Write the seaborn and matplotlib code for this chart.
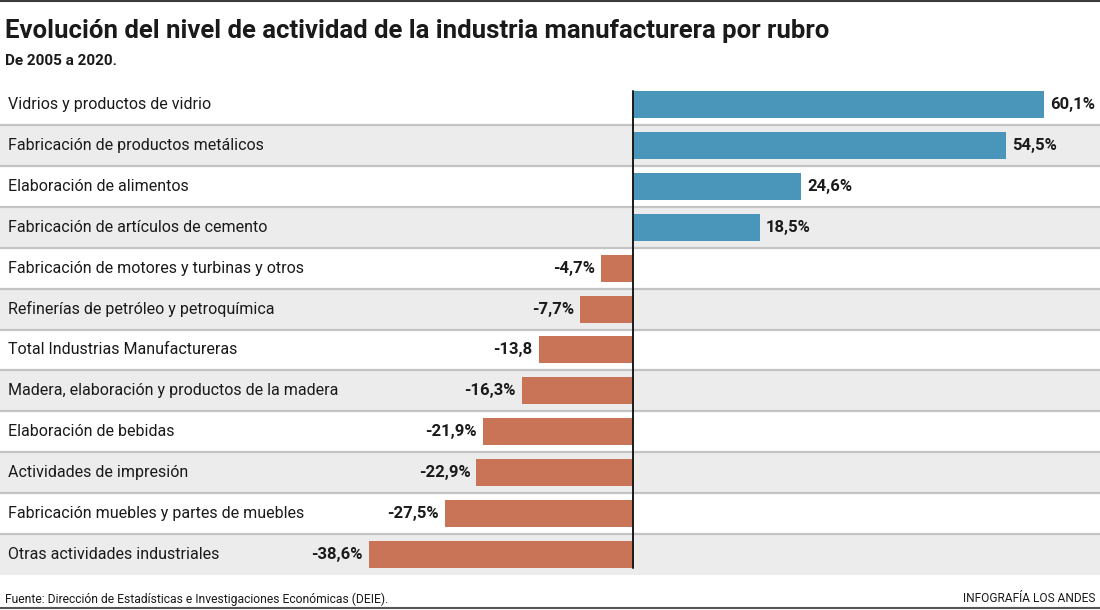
import matplotlib
matplotlib.use("Agg")
import matplotlib.pyplot as plt
from matplotlib import font_manager as fm
from matplotlib.lines import Line2D
import seaborn as sns
import pandas as pd

categories = [
    "Vidrios y productos de vidrio",
    "Fabricación de productos metálicos",
    "Elaboración de alimentos",
    "Fabricación de artículos de cemento",
    "Fabricación de motores y turbinas y otros",
    "Refinerías de petróleo y petroquímica",
    "Total Industrias Manufactureras",
    "Madera, elaboración y productos de la madera",
    "Elaboración de bebidas",
    "Actividades de impresión",
    "Fabricación muebles y partes de muebles",
    "Otras actividades industriales",
]
values = [60.1, 54.5, 24.6, 18.5, -4.7, -7.7, -13.8, -16.3, -21.9, -22.9, -27.5, -38.6]
value_labels = ["60,1%", "54,5%", "24,6%", "18,5%", "-4,7%", "-7,7%", "-13,8",
                "-16,3%", "-21,9%", "-22,9%", "-27,5%", "-38,6%"]

title = "Evolución del nivel de actividad de la industria manufacturera por rubro"
subtitle = "De 2005 a 2020."
source = "Fuente: Dirección de Estadísticas e Investigaciones Económicas (DEIE)."
credit = "INFOGRAFÍA LOS ANDES"

sns.set_theme(style="white")
names = {f.name for f in fm.fontManager.ttflist}
narrow = "Liberation Sans Narrow" if "Liberation Sans Narrow" in names else "Roboto"
plt.rcParams["font.family"] = [narrow, "DejaVu Sans"]

W, H = 1100, 610
fig = plt.figure(figsize=(W / 100, H / 100), dpi=100)
fig.patch.set_facecolor("white")

# axes occupying the row area
top_px, bot_px = 84, 575
ax = fig.add_axes([0, (H - bot_px) / H, 1, (bot_px - top_px) / H])

df = pd.DataFrame({"cat": categories, "val": values,
                   "sign": ["pos" if v >= 0 else "neg" for v in values]})
sns.barplot(data=df, x="val", y="cat", hue="sign", orient="h", dodge=False,
            palette={"pos": "#4a96bb", "neg": "#c97456"}, width=0.66,
            saturation=1, legend=False, ax=ax, zorder=3, linewidth=0)

zero_px = 633
scale = (1044 - zero_px) / 60.1
ax.set_xlim(-zero_px / scale, (W - zero_px) / scale)
n = len(categories)
ax.set_ylim(n - 0.5, -0.5)

for i in range(n):
    if i % 2 == 1:
        ax.axhspan(i - 0.5, i + 0.5, color="#ececec", zorder=0, lw=0)
for i in range(n - 1):
    ax.axhline(i + 0.5, color="#c4c4c4", lw=1.6, zorder=1)

ax.plot([0, 0], [-0.33, n - 1 + 0.33], color="#1a1a1a", lw=1.4, zorder=4)

ax.set_axis_off()

off = 6 / scale
for i, (v, lab, c) in enumerate(zip(values, value_labels, categories)):
    if v >= 0:
        ax.text(v + off, i, lab, ha="left", va="center", fontsize=12,
                fontweight="bold", color="#1a1a1a", zorder=5)
    else:
        ax.text(v - off, i, lab, ha="right", va="center", fontsize=12,
                fontweight="bold", color="#1a1a1a", zorder=5)
    ax.text(-zero_px / scale + 8 / scale, i, c, ha="left", va="center",
            fontsize=11.5, color="#1a1a1a", zorder=5)

fig.text(5 / W, 1 - 31 / H, title, fontsize=18.5, fontweight="bold",
         color="#1a1a1a", va="center", ha="left")
fig.text(5 / W, 1 - 61 / H, subtitle, fontsize=11, fontweight="bold",
         color="#1a1a1a", va="center", ha="left")
fig.text(5 / W, 1 - 599 / H, source, fontsize=8.7, color="#1a1a1a",
         va="center", ha="left")
fig.text(1095 / W, 1 - 599 / H, credit, fontsize=8.6, color="#1a1a1a",
         va="center", ha="right")

fig.add_artist(Line2D([0, 1], [1 - 0.8 / H, 1 - 0.8 / H], color="#3a3a3a", lw=1.5))
fig.add_artist(Line2D([0, 1], [1 - 607.5 / H, 1 - 607.5 / H], color="#555555", lw=1.5))

fig.savefig("out.png", dpi=100, facecolor="white")
